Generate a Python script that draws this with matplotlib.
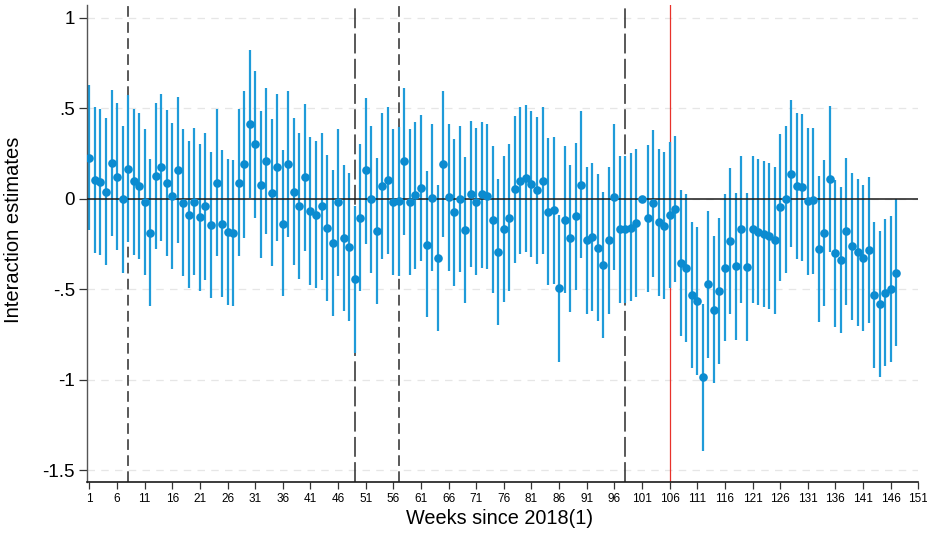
import numpy as np
import matplotlib
matplotlib.use('Agg')
import matplotlib.pyplot as plt

plt.rcParams['font.family'] = ['Liberation Sans', 'DejaVu Sans']

# Week indices and interaction estimates with 95% CI
weeks = np.arange(1, 148)

estimate = [
    0.226, 0.103, 0.090, 0.039, 0.197, 0.121, -0.004, 0.164, 0.097, 0.072,
    -0.020, -0.188, 0.127, 0.175, 0.086, 0.017, 0.158, -0.022, -0.088, -0.018,
    -0.103, -0.042, -0.147, 0.086, -0.138, -0.184, -0.189, 0.086, 0.191, 0.414,
    0.300, 0.077, 0.210, 0.033, 0.173, -0.138, 0.193, 0.039, -0.042, 0.118,
    -0.068, -0.090, -0.042, -0.162, -0.244, -0.020, -0.219, -0.265, -0.445, -0.105,
    0.158, -0.004, -0.178, 0.072, 0.103, -0.018, -0.015, 0.208, -0.018, 0.018,
    0.061, -0.254, 0.006, -0.327, 0.191, 0.007, -0.075, -0.002, -0.173, 0.026,
    -0.018, 0.024, 0.013, -0.116, -0.292, -0.169, -0.107, 0.051, 0.099, 0.114,
    0.083, 0.046, 0.099, -0.072, -0.064, -0.494, -0.116, -0.219, -0.097, 0.075,
    -0.228, -0.210, -0.270, -0.366, -0.228, 0.007, -0.168, -0.168, -0.162, -0.133,
    0.000, -0.109, -0.024, -0.130, -0.149, -0.091, -0.058, -0.356, -0.382, -0.534,
    -0.563, -0.987, -0.471, -0.612, -0.509, -0.380, -0.233, -0.371, -0.169, -0.375,
    -0.167, -0.184, -0.195, -0.206, -0.228, -0.048, -0.004, 0.138, 0.072, 0.064,
    -0.013, -0.009, -0.276, -0.188, 0.110, -0.301, -0.336, -0.180, -0.263, -0.296,
    -0.327, -0.285, -0.529, -0.579, -0.520, -0.498, -0.408,
]

ci_low = [
    -0.173, -0.298, -0.312, -0.366, -0.206, -0.281, -0.408, -0.237, -0.309, -0.333,
    -0.423, -0.590, -0.278, -0.232, -0.316, -0.386, -0.244, -0.426, -0.493, -0.423,
    -0.507, -0.449, -0.550, -0.316, -0.540, -0.585, -0.594, -0.316, -0.215, 0.006,
    -0.105, -0.329, -0.193, -0.371, -0.232, -0.539, -0.213, -0.368, -0.445, -0.287,
    -0.474, -0.493, -0.449, -0.566, -0.650, -0.426, -0.621, -0.673, -0.850, -0.511,
    -0.248, -0.408, -0.583, -0.333, -0.303, -0.423, -0.425, -0.199, -0.423, -0.386,
    -0.346, -0.654, -0.400, -0.732, -0.213, -0.397, -0.482, -0.406, -0.575, -0.379,
    -0.423, -0.384, -0.386, -0.518, -0.695, -0.572, -0.511, -0.355, -0.307, -0.292,
    -0.320, -0.358, -0.303, -0.476, -0.469, -0.899, -0.522, -0.623, -0.502, -0.329,
    -0.634, -0.618, -0.676, -0.770, -0.634, -0.395, -0.574, -0.574, -0.567, -0.540,
    np.nan, -0.513, -0.430, -0.535, -0.553, -0.495, -0.462, -0.757, -0.789, -0.937,
    -0.972, -1.395, -0.878, -1.018, -0.913, -0.783, -0.638, -0.778, -0.574, -0.783,
    -0.574, -0.588, -0.599, -0.607, -0.634, -0.452, -0.408, -0.268, -0.335, -0.342,
    -0.419, -0.414, -0.682, -0.590, -0.296, -0.706, -0.739, -0.586, -0.667, -0.702,
    -0.732, -0.687, -0.934, -0.985, -0.925, -0.903, -0.811,
]

ci_high = [
    0.630, 0.507, 0.494, 0.445, 0.600, 0.526, 0.400, 0.572, 0.498, 0.472,
    0.384, 0.219, 0.531, 0.579, 0.491, 0.419, 0.562, 0.384, 0.318, 0.390,
    0.301, 0.364, 0.257, 0.493, 0.267, 0.219, 0.215, 0.494, 0.597, 0.820,
    0.704, 0.483, 0.614, 0.439, 0.579, 0.267, 0.597, 0.447, 0.364, 0.522,
    0.340, 0.318, 0.364, 0.243, 0.160, 0.384, 0.186, 0.140, -0.039, 0.301,
    0.559, 0.400, 0.224, 0.474, 0.507, 0.384, 0.397, 0.614, 0.386, 0.423,
    0.465, 0.153, 0.410, 0.077, 0.597, 0.410, 0.331, 0.400, 0.233, 0.428,
    0.390, 0.426, 0.415, 0.290, 0.110, 0.235, 0.301, 0.456, 0.507, 0.520,
    0.487, 0.449, 0.504, 0.335, 0.340, -0.090, 0.290, 0.188, 0.309, 0.483,
    0.178, 0.195, 0.136, 0.039, 0.178, 0.410, 0.236, 0.236, 0.255, 0.272,
    np.nan, 0.295, 0.380, 0.272, 0.256, 0.313, 0.346, 0.050, 0.024, -0.128,
    -0.154, -0.579, -0.068, -0.208, -0.107, 0.026, 0.167, 0.033, 0.237, 0.029,
    0.237, 0.219, 0.210, 0.199, 0.178, 0.355, 0.400, 0.546, 0.472, 0.469,
    0.390, 0.393, 0.127, 0.215, 0.511, 0.101, 0.066, 0.224, 0.140, 0.108,
    0.075, 0.118, -0.127, -0.176, -0.114, -0.094, -0.004,
]

# reference lines: week, dash pattern
ref_short = [8, 57]
ref_long = [49, 98]
ref_red = 106

xticks = np.arange(1, 152, 5)
yticks = [-1.5, -1, -0.5, 0, 0.5, 1]
ytick_labels = ['-1.5', '-1', '-.5', '0', '.5', '1']

fig = plt.figure(figsize=(9.27, 5.36), dpi=100)
ax = fig.add_axes([0.0935, 0.1002, 0.8971, 0.8905])

# grid
for yv in yticks:
    ax.axhline(yv, color='#e6e6e6', lw=0.9, dashes=(6, 5), zorder=0)

# vertical reference lines
for xv in ref_short:
    ax.axvline(xv, color='#2b2b2b', lw=1.1, dashes=(7, 3.5), zorder=1)
for xv in ref_long:
    ax.axvline(xv, color='#2b2b2b', lw=1.1, dashes=(13, 3.5), zorder=1)
ax.axvline(ref_red, color='#e8322b', lw=0.9, zorder=1)

# confidence intervals
ax.vlines(weeks, ci_low, ci_high, color='#1f9bd9', lw=1.6, zorder=2)
ax.axhline(0, color='#1a1a1a', lw=1.1, zorder=3)
ax.plot(weeks, estimate, 'o', color='#0b8bd0', ms=6.2, mec='none', zorder=4)

ax.set_xlim(0.5, 151)
ax.set_ylim(-1.566, 1.07)

ax.set_xticks(xticks)
ax.set_xticklabels([str(t) for t in xticks], fontsize=8.5)
ax.set_yticks(yticks)
ax.set_yticklabels(ytick_labels, fontsize=13.5)

ax.tick_params(axis='x', length=5, width=0.9, color='#333333', pad=3)
ax.tick_params(axis='y', length=6, width=0.9, color='#333333', pad=2.5)

for side in ['top', 'right']:
    ax.spines[side].set_visible(False)
ax.spines['left'].set_color('#555555')
ax.spines['left'].set_linewidth(1.0)
ax.spines['bottom'].set_color('#1a1a1a')
ax.spines['bottom'].set_linewidth(1.2)

ax.set_ylabel('Interaction estimates', fontsize=14.5)
ax.yaxis.set_label_coords(-0.0766, 0.53)
ax.set_xlabel('Weeks since 2018(1)', fontsize=14.3)
ax.xaxis.set_label_coords(0.497, -0.057)

fig.savefig('out.png', dpi=100)
